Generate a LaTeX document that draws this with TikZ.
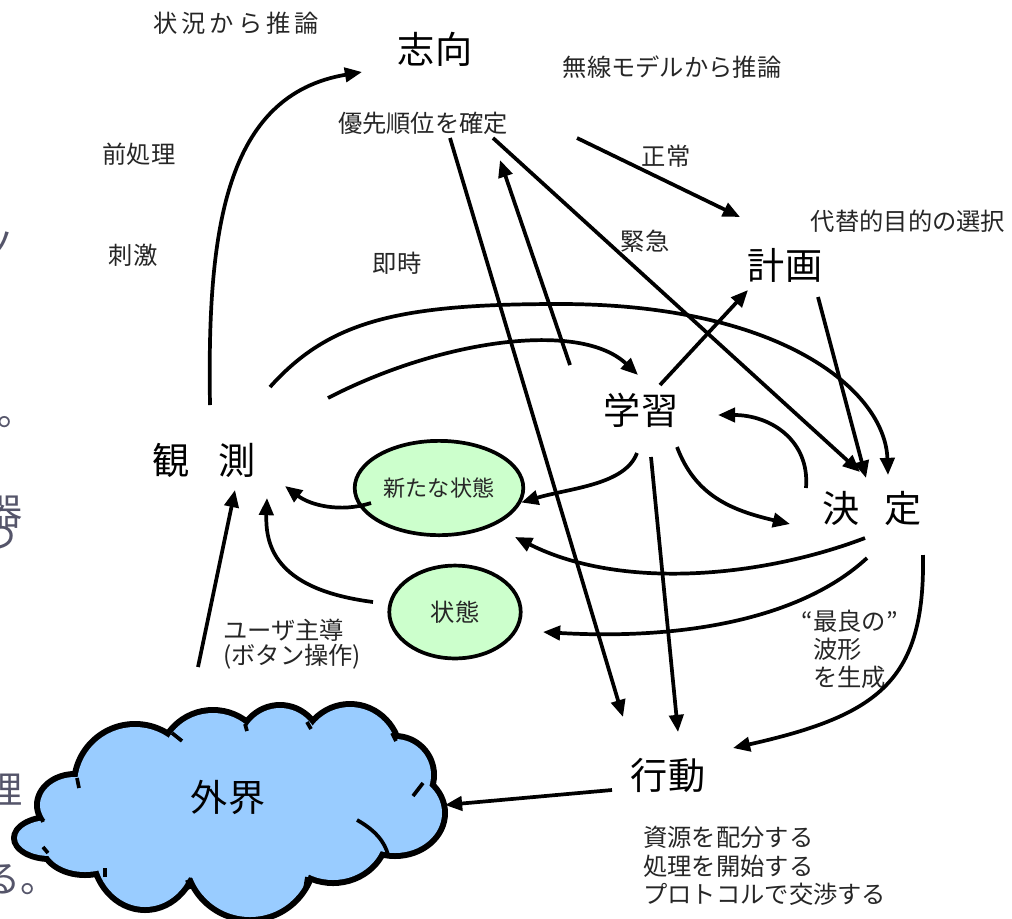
\documentclass[tikz,border=0pt]{standalone}
\usepackage{fontspec}
\setmainfont{Noto Sans CJK JP}
\usepackage{xcolor}
\usepackage{tikz}
\usetikzlibrary{arrows.meta,shapes.geometric,calc}

\definecolor{stategreen}{HTML}{CCFFCC}
\definecolor{cloudblue}{HTML}{99CCFF}
\definecolor{slidegray}{HTML}{55556A}

\begin{document}
\begin{tikzpicture}[x=0.7pt, y=-0.7pt, >={Triangle[length=12pt,width=10pt]},
    every node/.style={align=left, inner sep=0pt},
    big/.style={font=\fontsize{26}{30}\selectfont},
    lbl/.style={font=\fontsize{17}{20}\selectfont, text=black!85},
    flow/.style={->, line width=2.6pt},
    statebox/.style={ellipse, draw, line width=2.6pt, fill=stategreen, text=black!85},
    frag/.style={font=\fontsize{26}{30}\selectfont, text=slidegray}]
    \useasboundingbox (0,0) rectangle (1012,918);

    % slide text cut at the left edge
    \node[frag] at (-2,246) {ノ};
    \node[frag, anchor=base west] at (-3,425) {。};
    \node[frag] at (4,512) {器};
    \node[frag] at (-2,538) {つ};
    \node[frag] at (4,790) {理};
    \node[frag, anchor=west] at (-17,880) {る。};

    % cloud (outer world): black puffs, then blue puffs on top
    \foreach \cx/\cy/\rx/\ry in {50/838/33/18, 75/805/35/28, 135/785/58/58, 213/765/52/52,
        280/750/40/42, 350/757/48/50, 395/775/36/36, 395/813/47/40, 333/832/52/48,
        250/855/62/62, 145/850/50/57, 85/845/40/27}
        \fill[black] (\cx,\cy) ellipse [x radius=\rx+6, y radius=\ry+6];
    \foreach \cx/\cy/\rx/\ry in {50/838/33/18, 75/805/35/28, 135/785/58/58, 213/765/52/52,
        280/750/40/42, 350/757/48/50, 395/775/36/36, 395/813/47/40, 333/832/52/48,
        250/855/62/62, 145/850/50/57, 85/845/40/27, 230/810/150/70}
        \fill[cloudblue] (\cx,\cy) ellipse [x radius=\rx, y radius=\ry];
    \draw[line width=2.6pt] (357,820) .. controls (375,830) and (385,842) .. (388,855);
    \foreach \ax/\ay/\bx/\by in {77/778/79/788, 172/733/182/741, 245/724/247/731, 307/722/311/729,
        392/733/396/741, 423/783/413/796, 307/877/305/889, 190/889/187/880, 105/877/105/868,
        48/853/43/847, 43/822/40/815}
        \draw[line width=2.6pt] (\ax,\ay) -- (\bx,\by);

    % main nodes
    \node[big] (gaikai) at (228,797) {外界};
    \node[big] (shikou) at (435,49) {志向};
    \node[big] (keikaku) at (785,265) {計画};
    \node[big] (gakushu) at (641,410) {学習};
    \node[big] (kansoku) at (204,460) {観\hspace{0.8em}測};
    \node[big] (kettei) at (872,508) {決\hspace{0.67em}定};
    \node[big] (kodo) at (668,775) {行動};
    \node[statebox, minimum width=118pt, minimum height=66pt, font=\fontsize{15.5}{18}\selectfont] (shinjotai) at (439,488) {新たな状態};
    \node[statebox, minimum width=92pt, minimum height=65pt, font=\fontsize{17}{20}\selectfont] (jotai) at (455,612) {状態};

    % labels
    \node[lbl] (jokyo) at (236,23) {状\,況\,か\,ら\,推\,論};
    \node[lbl] (musen) at (672,67) {無線モデルから推論};
    \node[lbl] (yusen) at (423,123) {優先順位を確定};
    \node[lbl] (zensho) at (139,154) {前処理};
    \node[lbl] (seijo) at (666,156) {正常};
    \node[lbl] (daitai) at (908,221) {代替的目的の選択};
    \node[lbl] (kinkyu) at (645,241) {緊急};
    \node[lbl] (shigeki) at (133,255) {刺激};
    \node[lbl] (sokuji) at (397,263) {即時};
    \node[lbl, anchor=west, font=\fontsize{17}{18}\selectfont] (user) at (223,644) {ユーザ主導\\(ボタン操作)};
    \node[lbl, anchor=west, font=\fontsize{17}{19.6}\selectfont] (saryo) at (813,649) {\llap{“}最良の”\\波形\\を生成};
    \node[lbl, anchor=west] (shigen) at (643,866) {資源を配分する\\処理を開始する\\プロトコルで交渉する};

    % connectors
    \draw[flow] ($(kansoku)+(6,-55)$) .. controls (207,230) and (225,95) .. ($(shikou)+(-73,23)$);
    \draw[flow] ($(kansoku)+(66,-73)$) .. controls (330,320) and (400,304) .. (560,304)
        .. controls (780,304) and (885,390) .. ($(kettei)+(16,-33)$);
    \draw[flow] ($(kansoku)+(124,-62)$) .. controls (440,340) and (580,320) .. ($(gakushu)+(-3,-35)$);
    \draw[flow] ($(gakushu)+(-71,-45)$) -- ($(yusen)+(77,37)$);
    \draw[flow] ($(yusen)+(27,15)$) -- ($(kodo)+(-45,-58)$);
    \draw[flow] ($(yusen)+(70,15)$) -- ($(kettei)+(-12,-36)$);
    \draw[flow] ($(yusen)+(154,15)$) -- ($(keikaku)+(-45,-48)$);
    \draw[flow] ($(gakushu)+(19,-25)$) -- ($(keikaku)+(-37,25)$);
    \draw[flow] ($(keikaku)+(33,32)$) -- ($(kettei)+(-6,-30)$);
    \draw[flow] ($(gakushu)+(-4,43)$) .. controls (625,485) and (570,488) .. (shinjotai.350);
    \draw[flow] ($(gakushu)+(10,47)$) -- ($(kodo)+(10,-43)$);
    \draw[flow] ($(gakushu)+(36,37)$) .. controls (695,495) and (730,510) .. ($(kettei)+(-82,16)$);
    \draw[flow] ($(kettei)+(-66,-20)$) .. controls (810,440) and (770,415) .. ($(gakushu)+(77,5)$);
    \draw[flow] ($(kettei)+(-7,30)$) .. controls (760,578) and (620,590) .. ($(shinjotai)+(76,49)$);
    \draw[flow] ($(kettei)+(-5,50)$) .. controls (800,620) and (680,640) .. ($(jotai)+(88,20)$);
    \draw[flow] ($(kettei)+(51,47)$) .. controls (925,680) and (880,715) .. ($(kodo)+(65,-27)$);
    \draw[flow] ($(shinjotai)+(-68,15)$) .. controls (340,513) and (310,505) .. ($(kansoku)+(81,26)$);
    \draw[flow] ($(jotai)+(-82,-10)$) .. controls (280,590) and (265,550) .. ($(kansoku)+(63,38)$);
    \draw[flow] ($(gaikai)+(-30,-130)$) -- ($(kansoku)+(31,30)$);
    \draw[flow] ($(kodo)+(-56,15)$) -- ($(gaikai)+(217,8)$);
\end{tikzpicture}
\end{document}
